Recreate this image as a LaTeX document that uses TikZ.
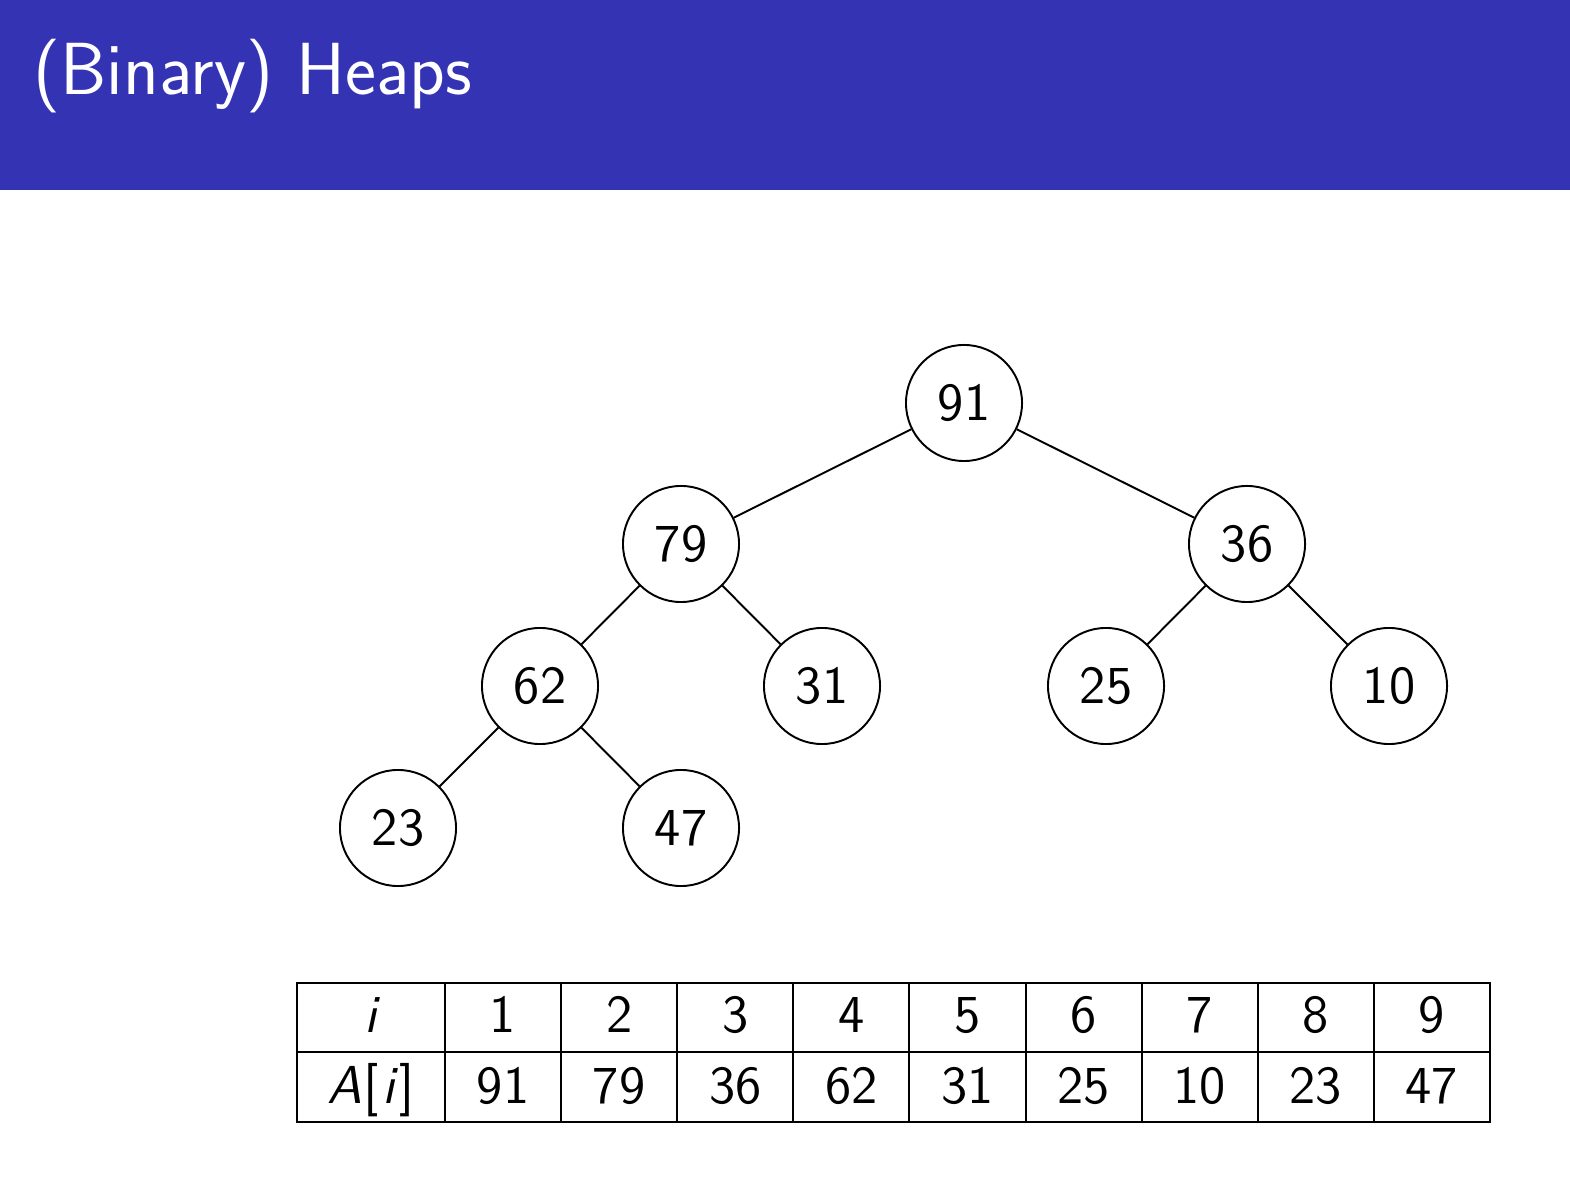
\documentclass[tikz,border=0pt]{standalone}
\usepackage{fontspec}
\definecolor{barblue}{RGB}{51,51,179}
\begin{document}
\begin{tikzpicture}[x=0.01cm,y=-0.01cm,
  heapnode/.style={circle,draw,line width=0.55pt,minimum size=1.16cm,inner sep=0pt,font=\sffamily\fontsize{15.2}{18}\selectfont},
  edge/.style={line width=0.55pt},
  cell/.style={anchor=base,inner sep=0pt,font=\sffamily\fontsize{15.2}{18}\selectfont},
  grid/.style={line width=0.55pt}]
\useasboundingbox (0,0) rectangle (1570,1192);
\fill[barblue] (0,0) rectangle (1570,190);
\node[anchor=base west,inner sep=0pt,text=white,font=\sffamily\fontsize{21}{25}\selectfont] (title) at (33,95) {(Binary) Heaps};
% tree
\node[heapnode] (n91) at (964,403) {91};
\node[heapnode] (n79) at (681,544) {79};
\node[heapnode] (n36) at (1247,544) {36};
\node[heapnode] (n62) at (540,686) {62};
\node[heapnode] (n31) at (822,686) {31};
\node[heapnode] (n25) at (1106,686) {25};
\node[heapnode] (n10) at (1389,686) {10};
\node[heapnode] (n23) at (398,828) {23};
\node[heapnode] (n47) at (681,828) {47};
\draw[edge] (n91) -- (n79);
\draw[edge] (n91) -- (n36);
\draw[edge] (n79) -- (n62);
\draw[edge] (n79) -- (n31);
\draw[edge] (n36) -- (n25);
\draw[edge] (n36) -- (n10);
\draw[edge] (n62) -- (n23);
\draw[edge] (n62) -- (n47);
% table
\draw[grid] (297,983) rectangle (1490,1122);
\draw[grid] (297,1052) -- (1490,1052);
\foreach \x in {445,561,677,793,909,1026,1142,1258,1374} {\draw[grid] (\x,983) -- (\x,1122);}
\node[cell] (hi) at (371,1032) {\slshape i};
\node[cell] (ha) at (371,1103) {{\slshape A\kern0.5pt}[\kern1pt{\slshape i}\kern1.5pt]};
\foreach \k/\v [count=\c] in {1/91,2/79,3/36,4/62,5/31,6/25,7/10,8/23,9/47} {
  \pgfmathsetmacro{\cx}{503+116.1*(\c-1)}
  \node[cell] (i\c) at (\cx,1032) {\k};
  \node[cell] (a\c) at (\cx,1103) {\v};
}
\end{tikzpicture}
\end{document}
